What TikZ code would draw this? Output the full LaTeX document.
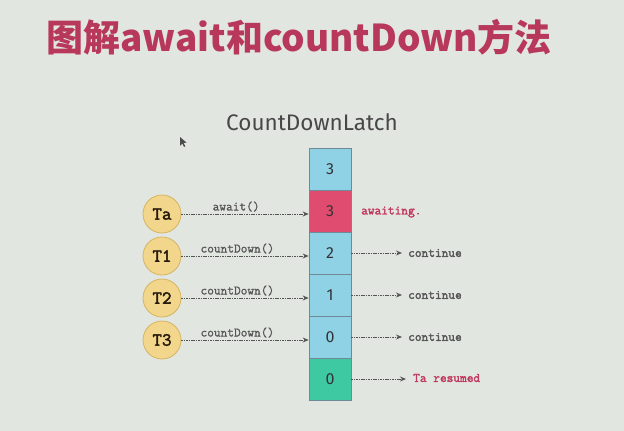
\documentclass[tikz,border=0pt]{standalone}
\usepackage{fontspec}
\usetikzlibrary{arrows.meta}
\newfontfamily\cjkfont{Noto Sans CJK SC}
\newfontfamily\headsans{Fira Sans}
\newfontfamily\slabmono{Latin Modern Mono}[FakeBold=2.2]
\newfontfamily\slabmonothin{Latin Modern Mono}[FakeBold=1.2]
\definecolor{bgc}{HTML}{E2E6E0}
\definecolor{titlered}{HTML}{B8385C}
\definecolor{cellblue}{HTML}{8FD2E6}
\definecolor{cellred}{HTML}{E04C70}
\definecolor{cellgreen}{HTML}{3EC9A2}
\definecolor{cellline}{HTML}{6E8A96}
\definecolor{threadfill}{HTML}{F1D68C}
\definecolor{threadline}{HTML}{D6B464}
\definecolor{inkgray}{HTML}{555555}
\definecolor{inkred}{HTML}{C0395E}
\tikzset{
  cell/.style={draw=cellline, line width=0.7pt, minimum width=42pt, minimum height=42pt,
    inner sep=0pt, font=\headsans\fontsize{16}{16}\selectfont, text=black!75!cyan!40!black},
  thread/.style={circle, draw=threadline, fill=threadfill, line width=0.8pt,
    minimum size=38pt, inner sep=0pt, font=\slabmono\bfseries\fontsize{18.5}{18.5}\selectfont,
    text=black!80!brown},
  call/.style={draw=inkgray, line width=0.8pt, dash pattern=on 1.6pt off 0.8pt,
    -{Stealth[length=6pt,width=5pt]}},
  calltext/.style={font=\slabmonothin\fontsize{13}{13}\selectfont, text=inkgray, inner sep=1pt},
  outtext/.style={font=\slabmono\fontsize{13}{13}\selectfont, text=inkgray,
    anchor=west, inner sep=0pt},
  redtext/.style={outtext, text=inkred}
}
\begin{document}
\begin{tikzpicture}[x=1pt,y=-1pt]
  % backdrop
  \fill[bgc] (0,0) rectangle (624,431);
  \useasboundingbox (0,0) rectangle (624,431);

  % heading
  \node[font=\cjkfont\bfseries\fontsize{37}{40}\selectfont, text=titlered] (title)
    at (299,37) {图解await和countDown方法};
  \node[font=\headsans\fontsize{22.5}{24}\selectfont, text=black!72] (latch)
    at (312,122) {CountDownLatch};

  % pointer
  \fill[black!70] (180,137) -- (180,146) -- (182.3,143.6) -- (184,147) -- (185.3,146.3)
    -- (183.6,143) -- (186.5,142.6) -- cycle;

  % counter column
  \node[cell, fill=cellblue]  (c1) at (330,169) {3};
  \node[cell, fill=cellred]   (c2) at (330,211) {3};
  \node[cell, fill=cellblue]  (c3) at (330,253) {2};
  \node[cell, fill=cellblue]  (c4) at (330,295) {1};
  \node[cell, fill=cellblue]  (c5) at (330,337) {0};
  \node[cell, fill=cellgreen] (c6) at (330,379) {0};

  % threads
  \node[thread] (ta) at (162,214) {Ta};
  \node[thread] (t1) at (162,256) {T1};
  \node[thread] (t2) at (162,298) {T2};
  \node[thread] (t3) at (162,340) {T3};

  % calls into the latch
  \draw[call] (ta.east) -- (ta.east -| c2.west)
    node[calltext, pos=0.43, above=1pt] {await()};
  \draw[call] (t1.east) -- (t1.east -| c3.west)
    node[calltext, pos=0.44, above=1pt] {countDown()};
  \draw[call] (t2.east) -- (t2.east -| c4.west)
    node[calltext, pos=0.44, above=1pt] {countDown()};
  \draw[call] (t3.east) -- (t3.east -| c5.west)
    node[calltext, pos=0.44, above=1pt] {countDown()};

  % outcomes
  \node[redtext] (wait) at (361,212) {awaiting.};
  \coordinate (e3) at (402,253);
  \coordinate (e4) at (402,295);
  \coordinate (e5) at (402,337);
  \coordinate (e6) at (406,379);
  \draw[call] (c3.east) -- (e3);
  \draw[call] (c4.east) -- (e4);
  \draw[call] (c5.east) -- (e5);
  \draw[call] (c6.east) -- (e6);
  \node[outtext] (go1) at (408,253) {continue};
  \node[outtext] (go2) at (408,295) {continue};
  \node[outtext] (go3) at (408,337) {continue};
  \node[redtext] (res) at (413,378) {Ta resumed};
\end{tikzpicture}
\end{document}
